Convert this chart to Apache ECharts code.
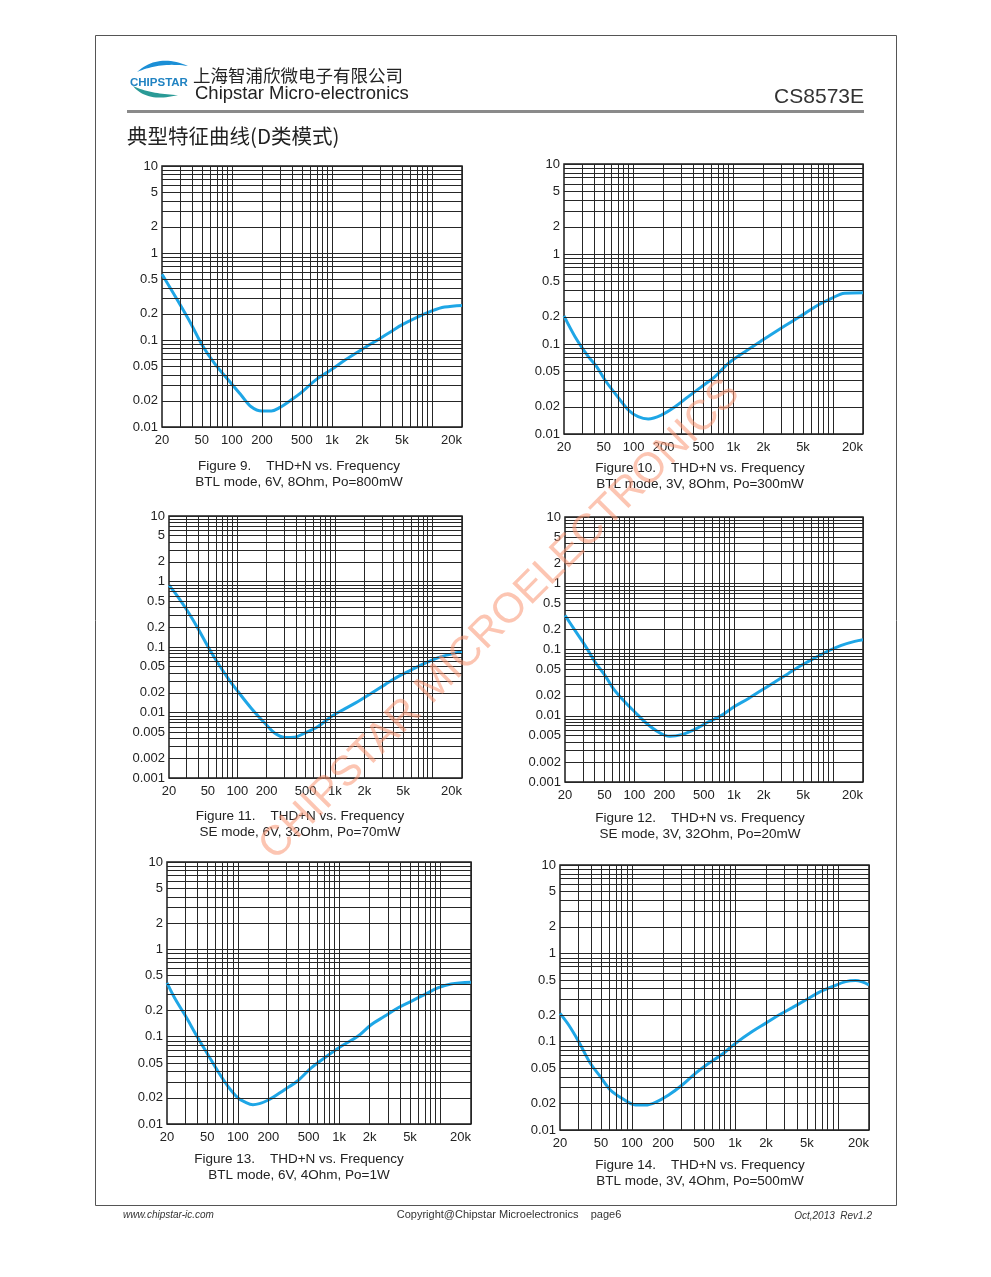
<!DOCTYPE html>
<html>
<head>
<meta charset="utf-8">
<script src="https://cdn.jsdelivr.net/npm/echarts@6/dist/echarts.min.js"></script>
<style>
html,body{margin:0;padding:0;background:#fff;}
#c{width:991px;height:1277px;}
</style>
</head>
<body>
<div id="c"></div>
<script>
// ---------- axis ticks ----------
const xTickVals = [20, 50, 100, 200, 500, 1000, 2000, 5000, 20000];
const xTickLabels = ['20', '50', '100', '200', '500', '1k', '2k', '5k', '20k'];
const xGridVals = [20, 30, 40, 50, 60, 70, 80, 90, 100, 200, 300, 400, 500, 600, 700, 800, 900,
  1000, 2000, 3000, 4000, 5000, 6000, 7000, 8000, 9000, 10000, 20000];
const yTickValsA = [0.01, 0.02, 0.05, 0.1, 0.2, 0.5, 1, 2, 5, 10];
const yTickLabelsA = ['0.01', '0.02', '0.05', '0.1', '0.2', '0.5', '1', '2', '5', '10'];
const yTickValsB = [0.001, 0.002, 0.005, 0.01, 0.02, 0.05, 0.1, 0.2, 0.5, 1, 2, 5, 10];
const yTickLabelsB = ['0.001', '0.002', '0.005', '0.01', '0.02', '0.05', '0.1', '0.2', '0.5', '1', '2', '5', '10'];
const yMantissas = [1, 2, 3, 4, 5, 6, 7, 8, 9];

// ---------- series values ----------
const freq9 = [20, 28.9, 39.3, 50, 67.3, 100, 124, 156, 200, 248, 300, 400, 500, 700, 1000, 1342, 2000, 3000, 4000, 5000, 7000, 10000, 13400, 20000];
const thd9 = [0.569, 0.28, 0.151, 0.089, 0.0535, 0.031, 0.0232, 0.0171, 0.0153, 0.0153, 0.0167, 0.0208, 0.0252, 0.0353, 0.046, 0.0584, 0.078, 0.1035, 0.127, 0.149, 0.181, 0.216, 0.239, 0.25];

const freq10 = [20, 25.8, 35.1, 42.5, 51.5, 65, 88.4, 111, 140, 191, 260, 353, 481, 654, 891, 1309, 1969, 2825, 3843, 5234, 7100, 9650, 13100, 20000];
const thd10 = [0.205, 0.1206, 0.0723, 0.056, 0.0398, 0.0283, 0.0185, 0.0156, 0.0147, 0.0163, 0.0201, 0.026, 0.0336, 0.0434, 0.061, 0.0822, 0.1107, 0.143, 0.177, 0.219, 0.271, 0.322, 0.366, 0.372];

const freq11 = [20, 24.7, 31.3, 39.6, 50.2, 63.5, 80.4, 101.7, 139, 191, 241, 306, 387, 490, 671, 919, 1259, 1723, 2360, 3230, 4420, 6060, 8290, 12300, 20000];
const thd11 = [0.879, 0.583, 0.345, 0.192, 0.101, 0.0564, 0.0333, 0.0209, 0.01164, 0.00689, 0.00485, 0.00416, 0.0042, 0.00485, 0.00612, 0.0087, 0.01137, 0.0147, 0.0197, 0.0264, 0.0353, 0.0447, 0.0564, 0.0713, 0.085];

const freq12 = [20, 25.2, 31.8, 40.1, 50.5, 61.3, 80.2, 101, 127.6, 173.7, 227, 298, 406, 552, 753, 1024, 1396, 1901, 2588, 3525, 4800, 6530, 8890, 12100, 16500, 20000];
const thd12 = [0.328, 0.1946, 0.1156, 0.0648, 0.0407, 0.0256, 0.0161, 0.0114, 0.00805, 0.00569, 0.00489, 0.00518, 0.00624, 0.00805, 0.01014, 0.01387, 0.0181, 0.0242, 0.0323, 0.0432, 0.0577, 0.0744, 0.0949, 0.1156, 0.1328, 0.1407];

const freq13 = [20, 23.8, 29.9, 40.4, 50.7, 63.6, 79.9, 100.2, 116.6, 141, 198, 289, 391, 530, 716, 1046, 1528, 2067, 2800, 3786, 5130, 6940, 9400, 12700, 20000];
const thd13 = [0.412, 0.277, 0.179, 0.0966, 0.0622, 0.0401, 0.027, 0.0199, 0.0179, 0.0166, 0.0187, 0.0247, 0.0313, 0.0438, 0.057, 0.0775, 0.1009, 0.137, 0.171, 0.213, 0.254, 0.303, 0.361, 0.401, 0.419];

const freq14 = [20, 24.3, 30.4, 39.4, 49.3, 61.7, 80.1, 108, 135, 169, 227, 307, 413, 557, 750, 1011, 1469, 1978, 2667, 3598, 4846, 6530, 8800, 11860, 14830, 20000];
const thd14 = [0.2094, 0.1545, 0.1, 0.0569, 0.0402, 0.0284, 0.0228, 0.0192, 0.0192, 0.0206, 0.0249, 0.0323, 0.0438, 0.0569, 0.072, 0.0957, 0.13, 0.161, 0.2, 0.243, 0.296, 0.362, 0.42, 0.478, 0.491, 0.438];

const captions1 = ['Figure 9.    THD+N vs. Frequency', 'Figure 10.    THD+N vs. Frequency', 'Figure 11.    THD+N vs. Frequency',
  'Figure 12.    THD+N vs. Frequency', 'Figure 13.    THD+N vs. Frequency', 'Figure 14.    THD+N vs. Frequency'];
const captions2 = ['BTL mode, 6V, 8Ohm, Po=800mW', 'BTL mode, 3V, 8Ohm, Po=300mW', 'SE mode, 6V, 32Ohm, Po=70mW',
  'SE mode, 3V, 32Ohm, Po=20mW', 'BTL mode, 6V, 4Ohm, Po=1W', 'BTL mode, 3V, 4Ohm, Po=500mW'];

// ---------- layout ----------
const FONT = '"Liberation Sans", Arial, sans-serif';
const panels = [
  { f: freq9, v: thd9, yMin: 0.01, box: [162, 166, 300, 261], cap: [299, 466] },
  { f: freq10, v: thd10, yMin: 0.01, box: [564, 164, 299, 270], cap: [700, 468] },
  { f: freq11, v: thd11, yMin: 0.001, box: [169, 516, 293, 262], cap: [300, 816] },
  { f: freq12, v: thd12, yMin: 0.001, box: [565, 517, 298, 265], cap: [700, 818] },
  { f: freq13, v: thd13, yMin: 0.01, box: [167, 862, 304, 262], cap: [299, 1159] },
  { f: freq14, v: thd14, yMin: 0.01, box: [560, 865, 309, 265], cap: [700, 1165] }
];

const L = Math.log10;
function nearestLabel(v, vals, labels) {
  let best = 0, bd = Infinity;
  vals.forEach((t, i) => { const d = Math.abs(L(t) - v); if (d < bd) { bd = d; best = i; } });
  return labels[best];
}
// crescent outline (two quadratic curves) for the logo decoration
function crescent(p0, c1, p1, c2) {
  const pts = [];
  const q = (a, c, b, t) => (1 - t) * (1 - t) * a + 2 * (1 - t) * t * c + t * t * b;
  for (let k = 0; k <= 20; k++) { const t = k / 20; pts.push([q(p0[0], c1[0], p1[0], t), q(p0[1], c1[1], p1[1], t)]); }
  for (let k = 0; k <= 20; k++) { const t = k / 20; pts.push([q(p1[0], c2[0], p0[0], t), q(p1[1], c2[1], p0[1], t)]); }
  return pts;
}

const grids = [], xAxes = [], yAxes = [], series = [], graphics = [];

panels.forEach((p, i) => {
  const [left, top, w, h] = p.box;
  grids.push({ left: left, top: top, width: w, height: h, show: true, borderColor: '#1a1a1a', borderWidth: 1.5, backgroundColor: '#fff', containLabel: false });
  xAxes.push({
    type: 'value', gridIndex: i, min: L(20), max: L(20000),
    axisLine: { show: false }, axisTick: { show: false }, splitLine: { show: false },
    axisLabel: {
      customValues: xTickVals.map(L), margin: 7, color: '#222', fontSize: 13, fontFamily: FONT,
      alignMaxLabel: 'right',
      formatter: v => nearestLabel(v, xTickVals, xTickLabels)
    }
  });
  const yVals = p.yMin === 0.01 ? yTickValsA : yTickValsB;
  const yLabs = p.yMin === 0.01 ? yTickLabelsA : yTickLabelsB;
  yAxes.push({
    type: 'value', gridIndex: i, min: L(p.yMin), max: L(10),
    axisLine: { show: false }, axisTick: { show: false }, splitLine: { show: false },
    axisLabel: {
      customValues: yVals.map(L), margin: 4, color: '#222', fontSize: 13, fontFamily: FONT,
      formatter: v => nearestLabel(v, yVals, yLabs)
    }
  });
  // grid lines
  const yGrid = [];
  for (let d = p.yMin; d < 9.999; d *= 10) {
    yMantissas.forEach(m => { yGrid.push(+(m * d).toPrecision(3)); });
  }
  yGrid.push(10);
  const mlData = xGridVals.map(g => ({ xAxis: L(g) })).concat(yGrid.map(g => ({ yAxis: L(g) })));
  const pts = p.f.map((f, k) => [L(f), L(p.v[k])]);
  series.push({
    type: 'line', xAxisIndex: i, yAxisIndex: i, data: [pts[0]], symbol: 'none', silent: true, z: 1,
    lineStyle: { opacity: 0 },
    markLine: {
      silent: true, symbol: ['none', 'none'], animation: false, label: { show: false },
      lineStyle: { color: '#262626', width: 1, type: 'solid' },
      emphasis: { disabled: true },
      data: mlData
    }
  });
  series.push({
    type: 'line', xAxisIndex: i, yAxisIndex: i, data: pts, symbol: 'none', smooth: 0.35, z: 3,
    animation: false,
    lineStyle: { color: '#1ea6e6', width: 3 }
  });
  graphics.push({ type: 'text', x: p.cap[0], y: p.cap[1], style: { text: captions1[i], font: '13.5px ' + FONT, fill: '#222', textAlign: 'center', textVerticalAlign: 'middle' } });
  graphics.push({ type: 'text', x: p.cap[0], y: p.cap[1] + 16, style: { text: captions2[i], font: '13.5px ' + FONT, fill: '#222', textAlign: 'center', textVerticalAlign: 'middle' } });
});

// page frame, header, footer, watermark
graphics.push(
  { type: 'rect', shape: { x: 95.5, y: 35.5, width: 801, height: 1170 }, style: { fill: 'none', stroke: '#555', lineWidth: 1 }, z: 0 },
  { type: 'polygon', shape: { points: crescent([137, 72], [158, 53], [188, 66], [160, 62]) }, style: { fill: '#1b8fd6' } },
  { type: 'polygon', shape: { points: crescent([133, 86], [147, 103], [178, 95], [150, 94]) }, style: { fill: '#2a9a96' } },
  { type: 'text', x: 130, y: 83, style: { text: 'CHIPSTAR', font: 'bold 11.5px ' + FONT, fill: '#2183c2', textVerticalAlign: 'middle' } },
  { type: 'text', x: 193, y: 75, style: { text: '上海智浦欣微电子有限公司', font: '17.5px "Noto Sans CJK SC", sans-serif', fill: '#222', textVerticalAlign: 'middle' } },
  { type: 'text', x: 195, y: 94, style: { text: 'Chipstar Micro-electronics', font: '18.5px ' + FONT, fill: '#222', textVerticalAlign: 'middle' } },
  { type: 'text', x: 864, y: 97, style: { text: 'CS8573E', font: '21px ' + FONT, fill: '#333', textAlign: 'right', textVerticalAlign: 'middle' } },
  { type: 'rect', shape: { x: 127, y: 110, width: 737, height: 3 }, style: { fill: '#8a8a8a' } },
  { type: 'text', x: 127, y: 136, style: { text: '典型特征曲线(D类模式)', font: '20.5px "Noto Sans CJK SC", sans-serif', fill: '#222', textVerticalAlign: 'middle' } },
  { type: 'text', x: 123, y: 1215, style: { text: 'www.chipstar-ic.com', font: 'italic 10px ' + FONT, fill: '#333', textVerticalAlign: 'middle' } },
  { type: 'text', x: 509, y: 1215, style: { text: 'Copyright@Chipstar Microelectronics    page6', font: '11px ' + FONT, fill: '#333', textAlign: 'center', textVerticalAlign: 'middle' } },
  { type: 'text', x: 872, y: 1216, style: { text: 'Oct,2013  Rev1.2', font: 'italic 10px ' + FONT, fill: '#333', textAlign: 'right', textVerticalAlign: 'middle' } },
  { type: 'text', x: 500, y: 620, rotation: Math.PI / 4, z: 100, style: { text: 'CHIPSTAR MICROELECTRONICS', font: '42px ' + FONT, fill: 'rgba(250,150,115,0.55)', textAlign: 'center', textVerticalAlign: 'middle' } }
);

const chart = echarts.init(document.getElementById('c'), null, { renderer: 'canvas' });
chart.setOption({
  backgroundColor: '#fff',
  animation: false,
  grid: grids,
  xAxis: xAxes,
  yAxis: yAxes,
  series: series,
  graphic: graphics
});
</script>
</body>
</html>
